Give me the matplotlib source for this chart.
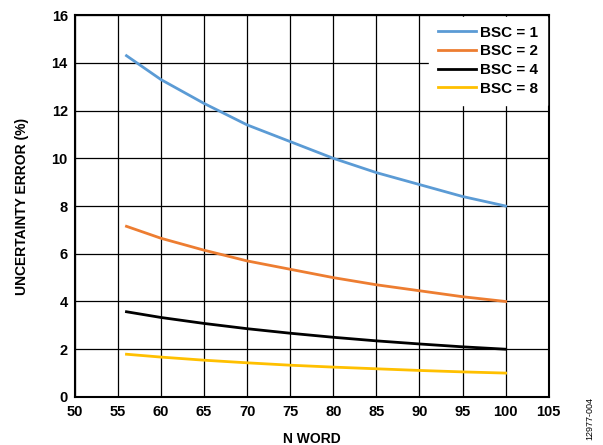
import matplotlib.pyplot as plt

plt.rcParams['font.family'] = ['Liberation Sans', 'DejaVu Sans']
plt.rcParams['font.weight'] = 'bold'

# valores
n_word = [56, 58, 60, 65, 70, 75, 80, 85, 90, 95, 100]
bsc1 = [14.3, 13.8, 13.3, 12.3, 11.4, 10.7, 10.0, 9.4, 8.9, 8.4, 8.0]
bsc2 = [7.15, 6.9, 6.65, 6.15, 5.7, 5.35, 5.0, 4.7, 4.45, 4.2, 4.0]
bsc4 = [3.57, 3.45, 3.33, 3.08, 2.86, 2.67, 2.5, 2.35, 2.22, 2.1, 2.0]
bsc8 = [1.79, 1.73, 1.67, 1.54, 1.43, 1.33, 1.25, 1.18, 1.11, 1.05, 1.0]

series = [
    (bsc1, '#5B9BD5', 'BSC = 1'),
    (bsc2, '#ED7D31', 'BSC = 2'),
    (bsc4, '#000000', 'BSC = 4'),
    (bsc8, '#FFC000', 'BSC = 8'),
]

fig = plt.figure(figsize=(6.03, 4.45), dpi=100)
ax = fig.add_axes([0.124, 0.108, 0.786, 0.858])

for vals, col, lab in series:
    ax.plot(n_word, vals, color=col, linewidth=2.0, label=lab, zorder=3)

ax.set_xlim(50, 105)
ax.set_ylim(0, 16)
ax.set_xticks(range(50, 106, 5))
ax.set_yticks(range(0, 17, 2))
ax.grid(True, color='black', linewidth=0.9)
ax.set_axisbelow(True)
ax.tick_params(length=0, labelsize=10.5)
ax.tick_params(axis='x', pad=6)
ax.tick_params(axis='y', pad=5)
for s in ax.spines.values():
    s.set_linewidth(1.5)

ax.set_xlabel('N WORD', fontsize=10, fontweight='bold', labelpad=9)
ax.set_ylabel('UNCERTAINTY ERROR (%)', fontsize=10, fontweight='bold', labelpad=16)

leg = ax.legend(loc='upper right', frameon=True, fancybox=False, fontsize=11,
                handlelength=2.5, handletextpad=0.25, labelspacing=0.3,
                borderaxespad=0.1, borderpad=0.6)
leg.get_frame().set_edgecolor('white')
leg.get_frame().set_alpha(1)
leg.set_zorder(5)

fig.text(0.978, 0.06, '12977-004', rotation=90, fontsize=6.5, fontweight='normal',
         ha='center', va='center')

fig.savefig('out.png', dpi=100)
